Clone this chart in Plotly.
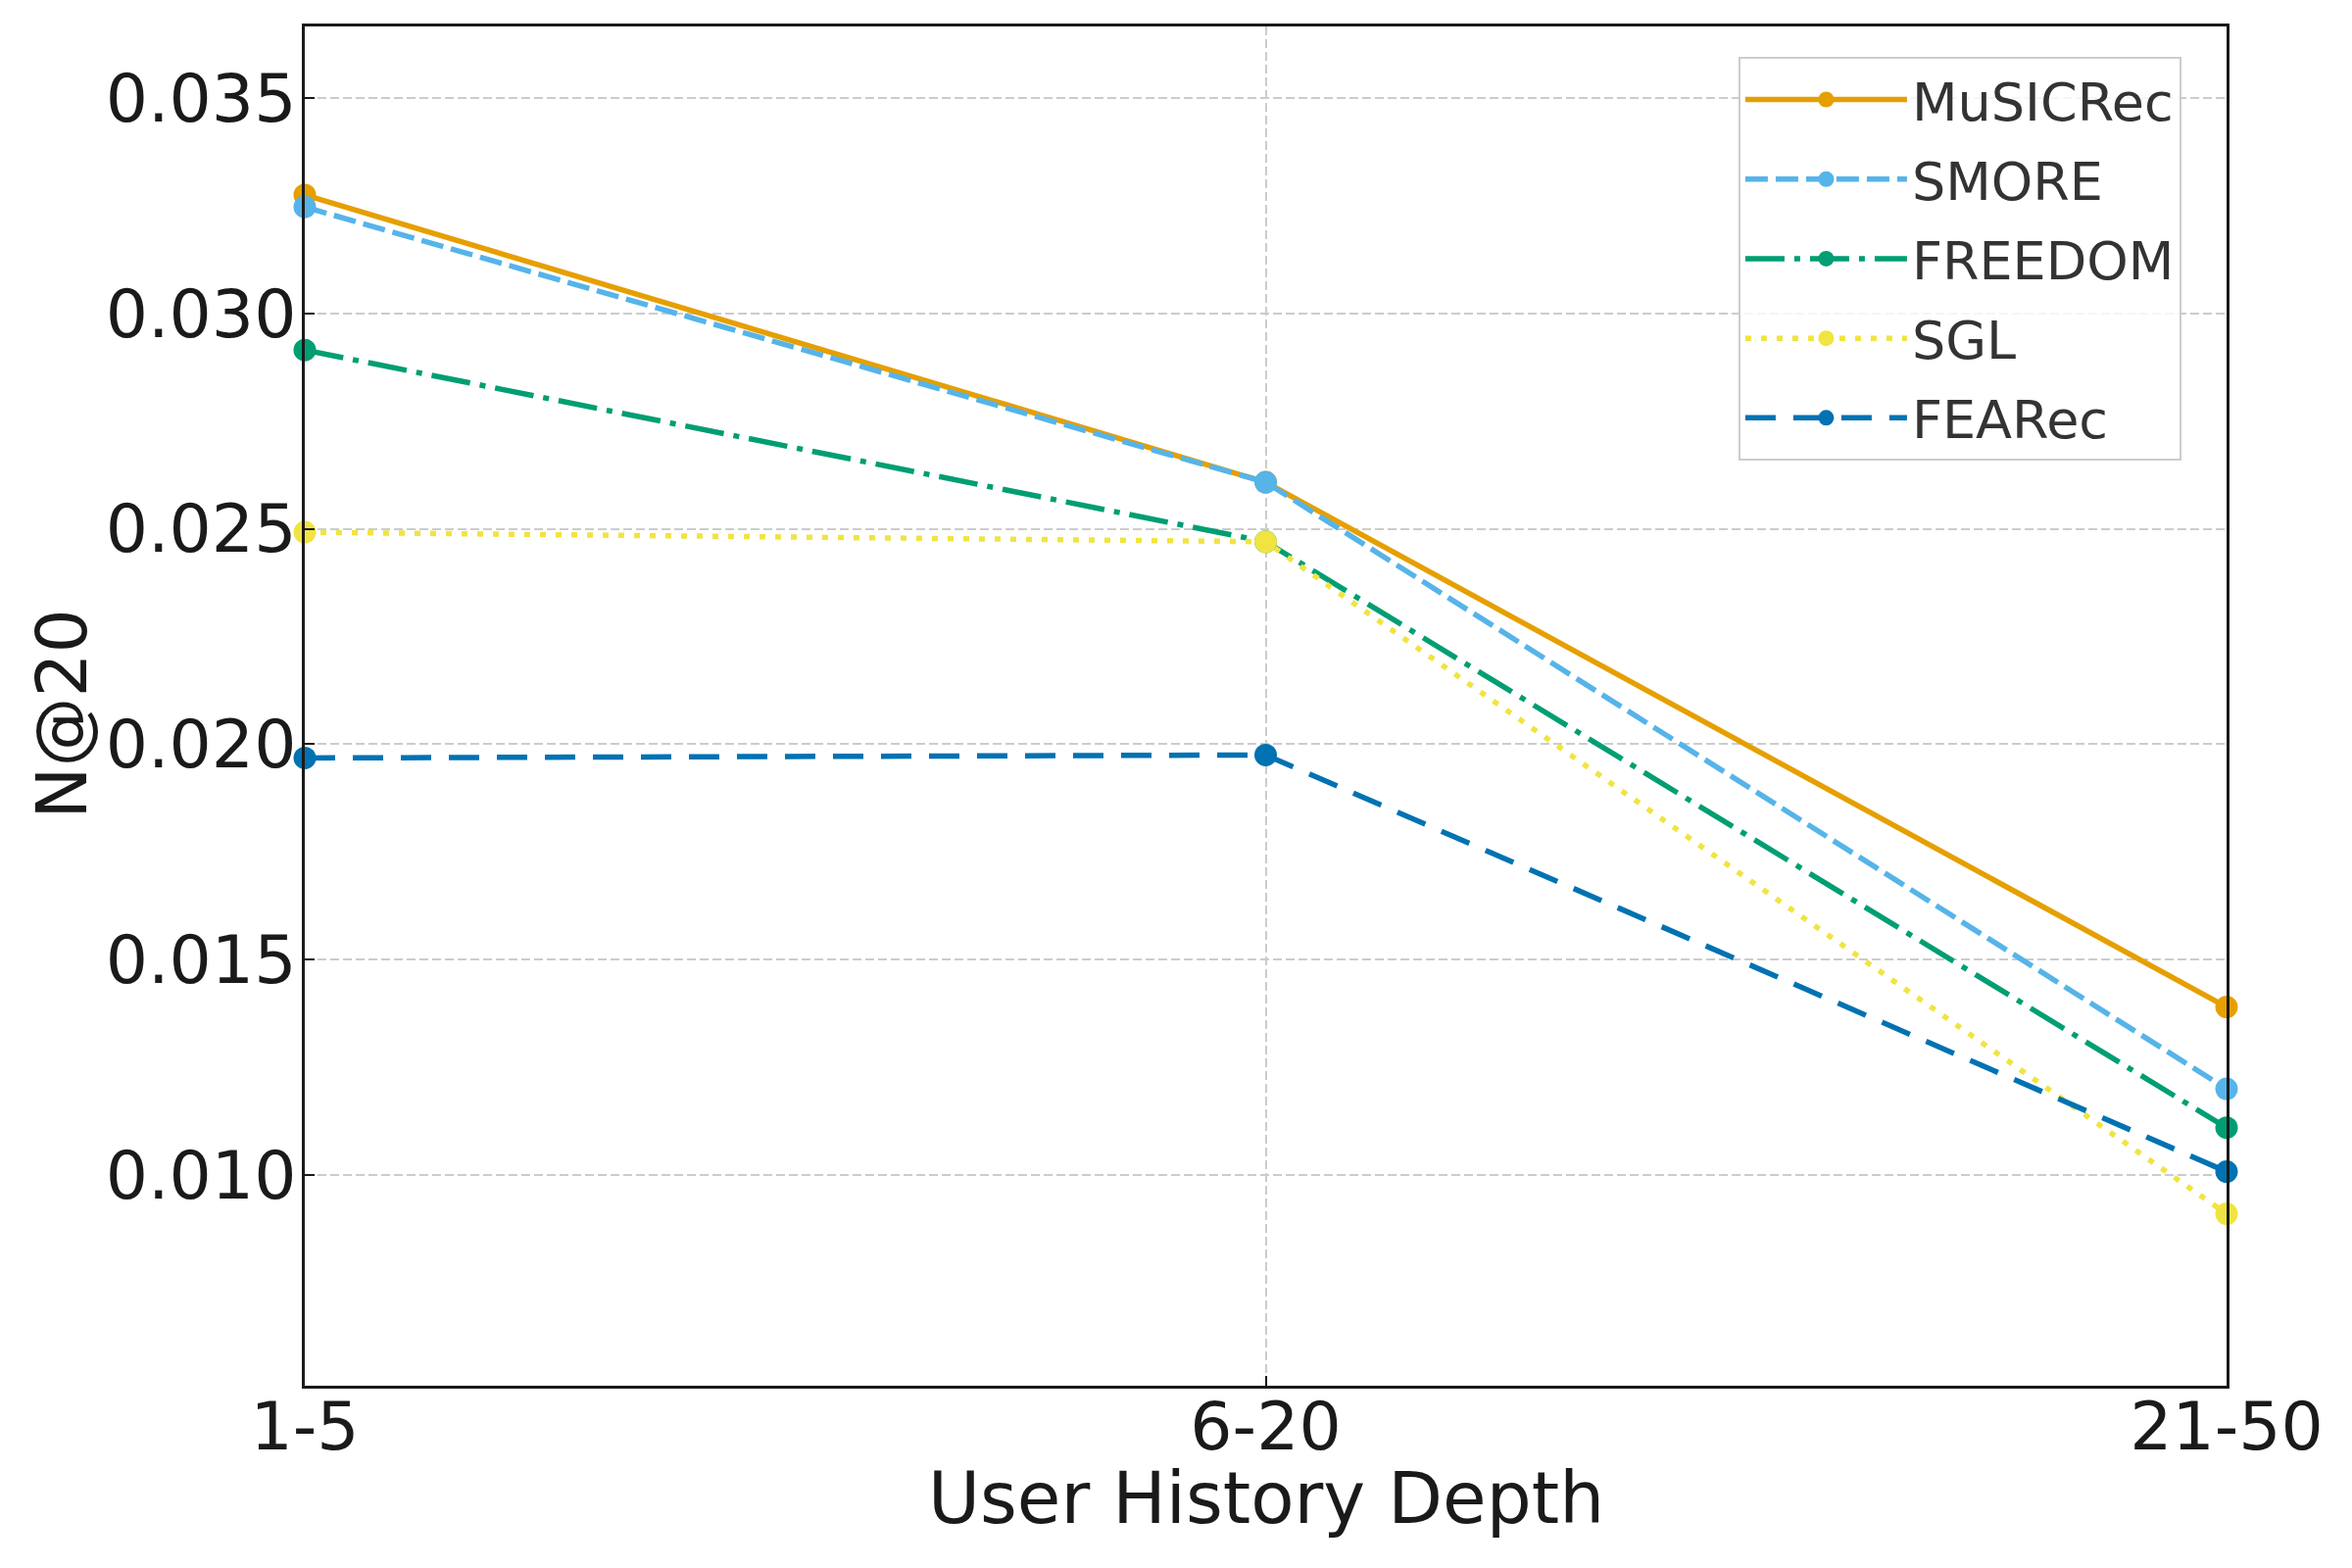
import plotly.graph_objects as go

categories = ["1-5", "6-20", "21-50"]
musicrec = [0.03275, 0.02608, 0.01390]
smore = [0.03247, 0.02608, 0.01200]
freedom = [0.02915, 0.02470, 0.01110]
sgl = [0.02492, 0.02470, 0.00910]
fearec = [0.01968, 0.01975, 0.01008]

series_names = ["MuSICRec", "SMORE", "FREEDOM", "SGL", "FEARec"]
series_values = [musicrec, smore, freedom, sgl, fearec]
colors = ["#E69F00", "#56B4E9", "#009E73", "#F0E442", "#0072B2"]
dashes = ["solid", "23px,8px", "40px,10px,6px,10px", "6px,10px", "31px,18px"]

yticks = [0.010, 0.015, 0.020, 0.025, 0.030, 0.035]
ytick_text = ["0.010", "0.015", "0.020", "0.025", "0.030", "0.035"]

FONT = "DejaVu Sans"
TXT = "#1a1a1a"

fig = go.Figure()
for name, vals, col, dash in zip(series_names, series_values, colors, dashes):
    fig.add_trace(go.Scatter(
        x=categories, y=vals, name=name, mode="lines+markers",
        line=dict(color=col, width=5.5, dash=dash),
        marker=dict(color=col, size=23, line=dict(width=0)),
        legendgroup=name, cliponaxis=False,
    ))

fig.update_layout(
    width=2400, height=1600,
    margin=dict(l=311, r=128, t=27, b=186),
    plot_bgcolor="white", paper_bgcolor="white",
    font=dict(family=FONT, color=TXT, size=66),
    legend=dict(
        x=0.9765, y=0.9777, xanchor="right", yanchor="top",
        bgcolor="rgba(255,255,255,0.8)", bordercolor="#cccccc", borderwidth=2,
        font=dict(family=FONT, size=54, color="#333333"),
        tracegroupgap=8, itemwidth=165,
    ),
    showlegend=True,
    annotations=[
        dict(text="User History Depth", xref="paper", yref="paper",
             x=0.5, y=-0.083, xanchor="center", yanchor="middle", showarrow=False,
             font=dict(family=FONT, size=72.5, color=TXT)),
        dict(text="N@20", xref="paper", yref="paper", textangle=-90,
             x=-0.126, y=0.494, xanchor="center", yanchor="middle", showarrow=False,
             font=dict(family=FONT, size=71, color=TXT)),
    ],
)

fig.update_xaxes(
    type="category", range=[0, 2],
    showline=True, linecolor=TXT, linewidth=3, mirror=True,
    ticks="inside", ticklen=10, tickwidth=2, tickcolor=TXT,
    showgrid=True, gridcolor="#cccccc", gridwidth=2, griddash="9px,4px",
    zeroline=False, ticklabelstandoff=-20,
    tickfont=dict(family=FONT, size=68, color=TXT),
)
fig.update_yaxes(
    range=[0.00511, 0.03666],
    tickvals=yticks, ticktext=ytick_text,
    showline=True, linecolor=TXT, linewidth=3, mirror=True,
    ticks="inside", ticklen=10, tickwidth=2, tickcolor=TXT,
    showgrid=True, gridcolor="#cccccc", gridwidth=2, griddash="9px,4px",
    zeroline=False, ticklabelstandoff=-8,
    tickfont=dict(family=FONT, size=68, color=TXT),
)

fig.write_html("out.html", config={"displayModeBar": False},
               post_script="document.body.style.margin='0px';")
